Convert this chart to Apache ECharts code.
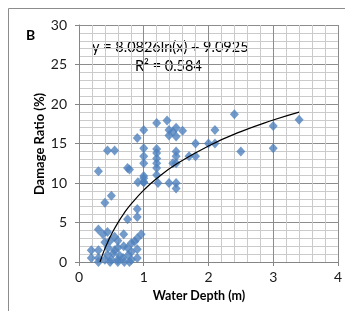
<!DOCTYPE html>
<html>
<head>
<meta charset="utf-8">
<script src="https://cdn.jsdelivr.net/npm/echarts@6/dist/echarts.min.js"></script>
<style>
  html, body { margin: 0; padding: 0; background: #fff; }
  #chart { width: 345px; height: 311px; }
</style>
</head>
<body>
<div id="chart"></div>
<script>
const depthX = [
  0.19, 0.19, 0.3, 0.3, 0.3, 0.37, 0.44, 0.4, 0.48, 0.55, 0.6, 0.6, 0.53, 0.44, 0.4, 0.5, 0.6,
  0.69, 0.69, 0.75, 0.81, 0.81, 0.86, 0.9, 0.96, 0.9, 0.9, 0.81, 0.76, 0.68, 0.63, 0.55, 0.45,
  0.78, 0.7, 0.6, 0.48,
  0.3, 0.3, 0.44, 0.55, 0.4, 0.5, 0.75, 0.78, 0.9, 1.0, 1.0, 1.0, 1.0, 1.0, 1.0, 1.0, 1.0, 0.91,
  0.9, 0.9, 0.75, 1.2, 1.2, 1.2, 1.2, 1.2, 1.2, 1.2, 1.22, 1.36, 1.39, 1.39, 1.5, 1.5, 1.6, 1.45,
  1.5, 1.5, 1.45, 1.5, 1.39, 1.5, 1.5, 1.7, 1.8, 1.8, 2.0, 2.1, 2.1, 2.4, 2.5, 3.0, 3.0, 3.4
];
const damageY = [
  1.5, 0.5, 1.5, 0.5, 0, 3.5, 3.8, 2.5, 2.7, 3.2, 2.7, 1.8, 1.1, 0.9, 0.3, 0.3, 0.3,
  3.5, 2.0, 1.8, 2.4, 1.3, 2.6, 3.0, 3.5, 1.6, 0.5, 0.3, 0.9, 0.5, 0.8, 1.5, 1.8,
  0, 0, 0, 0,
  11.5, 4.1, 14.1, 14.1, 7.5, 8.4, 11.9, 11.7, 15.7, 16.7, 14.4, 13.4, 12.5, 10.9, 10.6, 10.1, 10.1, 10.1,
  6.7, 5.7, 5.4, 17.6, 14.3, 13.8, 13.1, 12.5, 11.9, 11.0, 10.0, 17.9, 16.7, 16.0, 17.0, 15.9, 16.6, 16.5,
  14.0, 13.4, 12.5, 12.5, 10.0, 10.0, 9.3, 13.4, 13.4, 15.0, 15.0, 15.0, 16.7, 18.7, 14.0, 17.2, 14.4, 18.0
];

// logarithmic trend line, y = 8.0826ln(x) + 9.0925
const trendX = [0.325, 0.35, 0.4, 0.45, 0.5, 0.6, 0.7, 0.8, 1.0, 1.2, 1.5, 2.0, 2.5, 3.0, 3.4];
const trendY = [0, 0.61, 1.69, 2.64, 3.49, 4.96, 6.21, 7.29, 9.09, 10.57, 12.37, 14.69, 16.50, 17.97, 18.98];

const xTicks = [0, 1, 2, 3, 4];
const yTicks = [0, 5, 10, 15, 20, 25, 30];

const font = 'Lato, "Open Sans", sans-serif';
const chart = echarts.init(document.getElementById('chart'));

chart.setOption({
  animation: false,
  backgroundColor: '#fff',
  grid: { left: 79, right: 7, top: 25, bottom: 49 },
  xAxis: {
    type: 'value',
    min: xTicks[0],
    max: xTicks[xTicks.length - 1],
    interval: 1,
    axisLine: { show: true, lineStyle: { color: '#868686' } },
    axisTick: { show: true, length: 4, lineStyle: { color: '#868686' } },
    axisLabel: { color: '#1a1a1a', fontFamily: font, fontSize: 14, margin: 8 },
    splitLine: { show: true, lineStyle: { color: '#8c8c8c', width: 1 } },
    minorTick: { show: false, splitNumber: 5 },
    minorSplitLine: { show: true, lineStyle: { color: '#cbcbcb', width: 1 } }
  },
  yAxis: {
    type: 'value',
    min: yTicks[0],
    max: yTicks[yTicks.length - 1],
    interval: 5,
    axisLine: { show: true, lineStyle: { color: '#868686' } },
    axisTick: { show: true, length: 4, lineStyle: { color: '#868686' } },
    axisLabel: { color: '#1a1a1a', fontFamily: font, fontSize: 14, margin: 12 },
    splitLine: { show: true, lineStyle: { color: '#8c8c8c', width: 1 } },
    minorTick: { show: false, splitNumber: 5 },
    minorSplitLine: { show: true, lineStyle: { color: '#cbcbcb', width: 1 } }
  },
  series: [
    {
      type: 'scatter',
      symbol: 'diamond',
      symbolSize: [9, 10],
      itemStyle: { color: '#4f81bd' },
      data: depthX.map((x, i) => [x, damageY[i]]),
      z: 3
    },
    {
      type: 'line',
      smooth: true,
      showSymbol: false,
      lineStyle: { color: '#000', width: 1.2 },
      data: trendX.map((x, i) => [x, trendY[i]]),
      z: 4
    }
  ],
  graphic: [
    {
      type: 'rect',
      shape: { x: 8.5, y: 8.5, width: 345, height: 311 },
      style: { fill: 'none', stroke: '#8c8c8c', lineWidth: 1 },
      silent: true
    },
    {
      type: 'text', left: 26, top: 28,
      style: { text: 'B', font: 'bold 14px ' + font, fill: '#000' }
    },
    {
      type: 'text', left: 92, top: 40,
      style: { text: 'y = 8.0826ln(x) + 9.0925', font: '14.5px ' + font, fill: '#000' }
    },
    {
      type: 'text', left: 135, top: 59,
      style: { text: 'R² = 0.584', font: '14.5px ' + font, fill: '#000' }
    },
    {
      type: 'text', x: 40, y: 144, rotation: Math.PI / 2,
      style: { text: 'Damage Ratio (%)', font: 'bold 13px ' + font, fill: '#000', align: 'center', verticalAlign: 'middle' }
    },
    {
      type: 'text', x: 199, y: 296,
      style: { text: 'Water Depth (m)', font: 'bold 12.5px ' + font, fill: '#000', align: 'center', verticalAlign: 'middle' }
    }
  ]
});
</script>
</body>
</html>
